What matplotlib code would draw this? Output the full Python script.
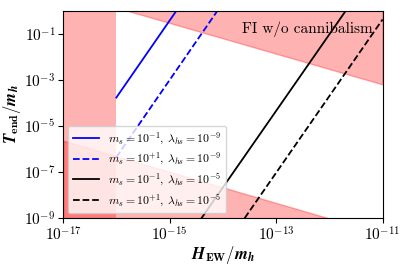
import matplotlib
matplotlib.use("Agg")
import matplotlib.pyplot as plt
import numpy as np

plt.rcParams["font.family"] = "serif"
plt.rcParams["font.serif"] = ["cmr10", "DejaVu Serif"]
plt.rcParams["mathtext.fontset"] = "cm"
plt.rcParams["axes.formatter.use_mathtext"] = True

# excluded regions (log10 values)
band_H = [1e-17, 1e-16]
upper_H = [10**-15.8, 1e-11]
upper_T = [1.0, 10**-3.2]
lower_H = [1e-17, 10**-12.02]
lower_T = [10**-5.64, 1e-9]

# curves: endpoints in (H_EW/m_h, T_end/m_h)
blue_solid_H = [1e-16, 10**-14.87]
blue_solid_T = [10**-3.77, 1.0]
blue_dash_H = [1e-16, 10**-14.10]
blue_dash_T = [10**-6.36, 1.0]
black_solid_H = [10**-14.40, 10**-11.69]
black_solid_T = [1e-9, 1.0]
black_dash_H = [10**-13.59, 1e-11]
black_dash_T = [1e-9, 10**-0.38]

labels = [
    r"$m_s = 10^{-1}$, $\lambda_{hs} = 10^{-9}$",
    r"$m_s = 10^{+1}$, $\lambda_{hs} = 10^{-9}$",
    r"$m_s = 10^{-1}$, $\lambda_{hs} = 10^{-5}$",
    r"$m_s = 10^{+1}$, $\lambda_{hs} = 10^{-5}$",
]

xlim = (1e-17, 1e-11)
ylim = (1e-9, 1.0)

fig = plt.figure(figsize=(4.07, 2.66), dpi=100)
ax = fig.add_axes([0.155, 0.18, 0.785, 0.78])

ax.fill_betweenx(ylim, band_H[0], band_H[1], color="red", alpha=0.3, lw=0)
ax.fill_between(upper_H, upper_T, [ylim[1]] * 2, color="red", alpha=0.3)
ax.fill_between(lower_H, [ylim[0]] * 2, lower_T, color="red", alpha=0.3)

ax.plot(blue_solid_H, blue_solid_T, color="blue", lw=1.3, label=labels[0])
ax.plot(blue_dash_H, blue_dash_T, color="blue", lw=1.3, ls="--", label=labels[1])
ax.plot(black_solid_H, black_solid_T, color="black", lw=1.3, label=labels[2])
ax.plot(black_dash_H, black_dash_T, color="black", lw=1.3, ls="--", label=labels[3])

ax.set_xscale("log")
ax.set_yscale("log")
ax.set_xlim(*xlim)
ax.set_ylim(*ylim)
ax.set_xticks([1e-17, 1e-15, 1e-13, 1e-11])
ax.set_yticks([1e-9, 1e-7, 1e-5, 1e-3, 1e-1])
ax.minorticks_off()
ax.tick_params(labelsize=11, pad=2)

ax.set_xlabel(r"$\boldsymbol{H}_{\mathbf{EW}}\mathbf{/}\boldsymbol{m}_{\boldsymbol{h}}$",
              fontsize=12, labelpad=0)
ax.set_ylabel(r"$\boldsymbol{T}_{\mathbf{end}}\mathbf{/}\boldsymbol{m}_{\boldsymbol{h}}$",
              fontsize=12, labelpad=1)

ax.text(0.97, 0.91, "FI w/o cannibalism", transform=ax.transAxes,
        ha="right", va="center", fontsize=11)

ax.legend(loc="lower left", fontsize=8.5, framealpha=0.8, borderaxespad=0.4,
          labelspacing=0.35, handlelength=2.2)

fig.savefig("out.png", dpi=100)
